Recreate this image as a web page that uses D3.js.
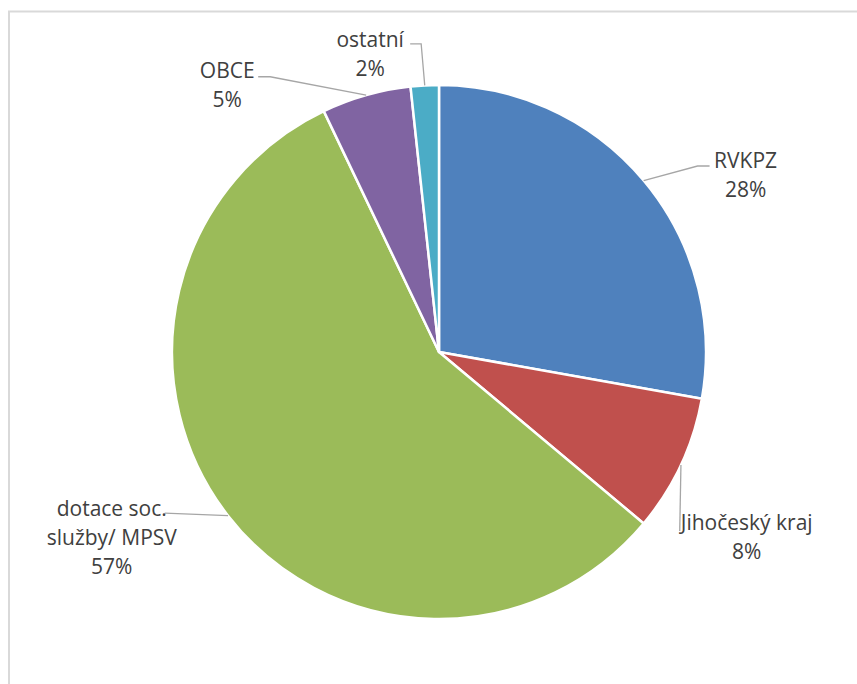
<!DOCTYPE html>
<html>
<head>
<meta charset="utf-8">
<script src="https://cdn.jsdelivr.net/npm/d3@7"></script>
<style>
  body { margin: 0; background: #fff; }
  svg text { font-family: "Open Sans", sans-serif; fill: #404040; }
</style>
</head>
<body>
<svg id="chart" width="857" height="684"></svg>
<script>
// slice data, clockwise from 12 o'clock
const categories = ["RVKPZ", "Jihočeský kraj", "dotace soc. služby/ MPSV", "OBCE", "ostatní"];
const labelLines = [["RVKPZ"], ["Jihočeský kraj"], ["dotace soc.", "služby/ MPSV"], ["OBCE"], ["ostatní"]];
const values = [27.8, 8.3, 56.8, 5.4, 1.7];
const colors = ["#4f81bd", "#c0504d", "#9bbb59", "#8064a2", "#4bacc6"];

// label placement: polar offset of label centre (deg from top, distance),
// leader end relative to label centre, and length of the horizontal elbow
const labelPolar = [[60, 354], [121, 359], [240.5, 376], [321.6, 341], [347, 306]];
const leaderEnd = [[-36, -9], [-67, -6], [53, -24], [31, -8], [40, -10]];
const elbow = [12, 0, 0, 12, 11];

const svg = d3.select("#chart");
const cx = 439, cy = 352, r = 267;
const lineH = 29;

// chart area border (top and left only are visible)
svg.append("path")
    .attr("d", "M9,684 V11.5 H857")
    .attr("fill", "none")
    .attr("stroke", "#d9d9d9")
    .attr("stroke-width", 2);

const g = svg.append("g").attr("transform", `translate(${cx},${cy})`);

const pie = d3.pie().sort(null).value(d => d)(values);
const arc = d3.arc().innerRadius(0).outerRadius(r);

g.selectAll("path.slice")
    .data(pie)
    .join("path")
    .attr("class", "slice")
    .attr("d", arc)
    .attr("fill", (d, i) => colors[i])
    .attr("stroke", "#fff")
    .attr("stroke-width", 2.5)
    .attr("stroke-linejoin", "round");

const total = d3.sum(values);
const polar = (deg, dist) => {
    let a = deg * Math.PI / 180;
    return [dist * Math.sin(a), -dist * Math.cos(a)];
};

pie.forEach((d, i) => {
    let mid = (d.startAngle + d.endAngle) / 2;
    let start = [r * Math.sin(mid), -r * Math.cos(mid)];
    let lc = polar(labelPolar[i][0], labelPolar[i][1]);
    let end = [lc[0] + leaderEnd[i][0], lc[1] + leaderEnd[i][1]];
    let dir = leaderEnd[i][0] < 0 ? -1 : 1;
    let knee = [end[0] + dir * elbow[i], end[1]];

    g.append("path")
        .attr("d", d3.line()([start, knee, end]))
        .attr("fill", "none")
        .attr("stroke", "#a6a6a6")
        .attr("stroke-width", 1.3);

    let lines = labelLines[i].concat([Math.round(values[i] / total * 100) + "%"]);
    let t = g.append("text")
        .attr("text-anchor", "middle")
        .attr("font-size", 21);
    let y0 = lc[1] - (lines.length - 1) * lineH / 2;
    lines.forEach((s, k) => {
        t.append("tspan")
            .attr("x", lc[0])
            .attr("y", y0 + k * lineH)
            .attr("dy", "0.35em")
            .text(s);
    });
});
</script>
</body>
</html>
